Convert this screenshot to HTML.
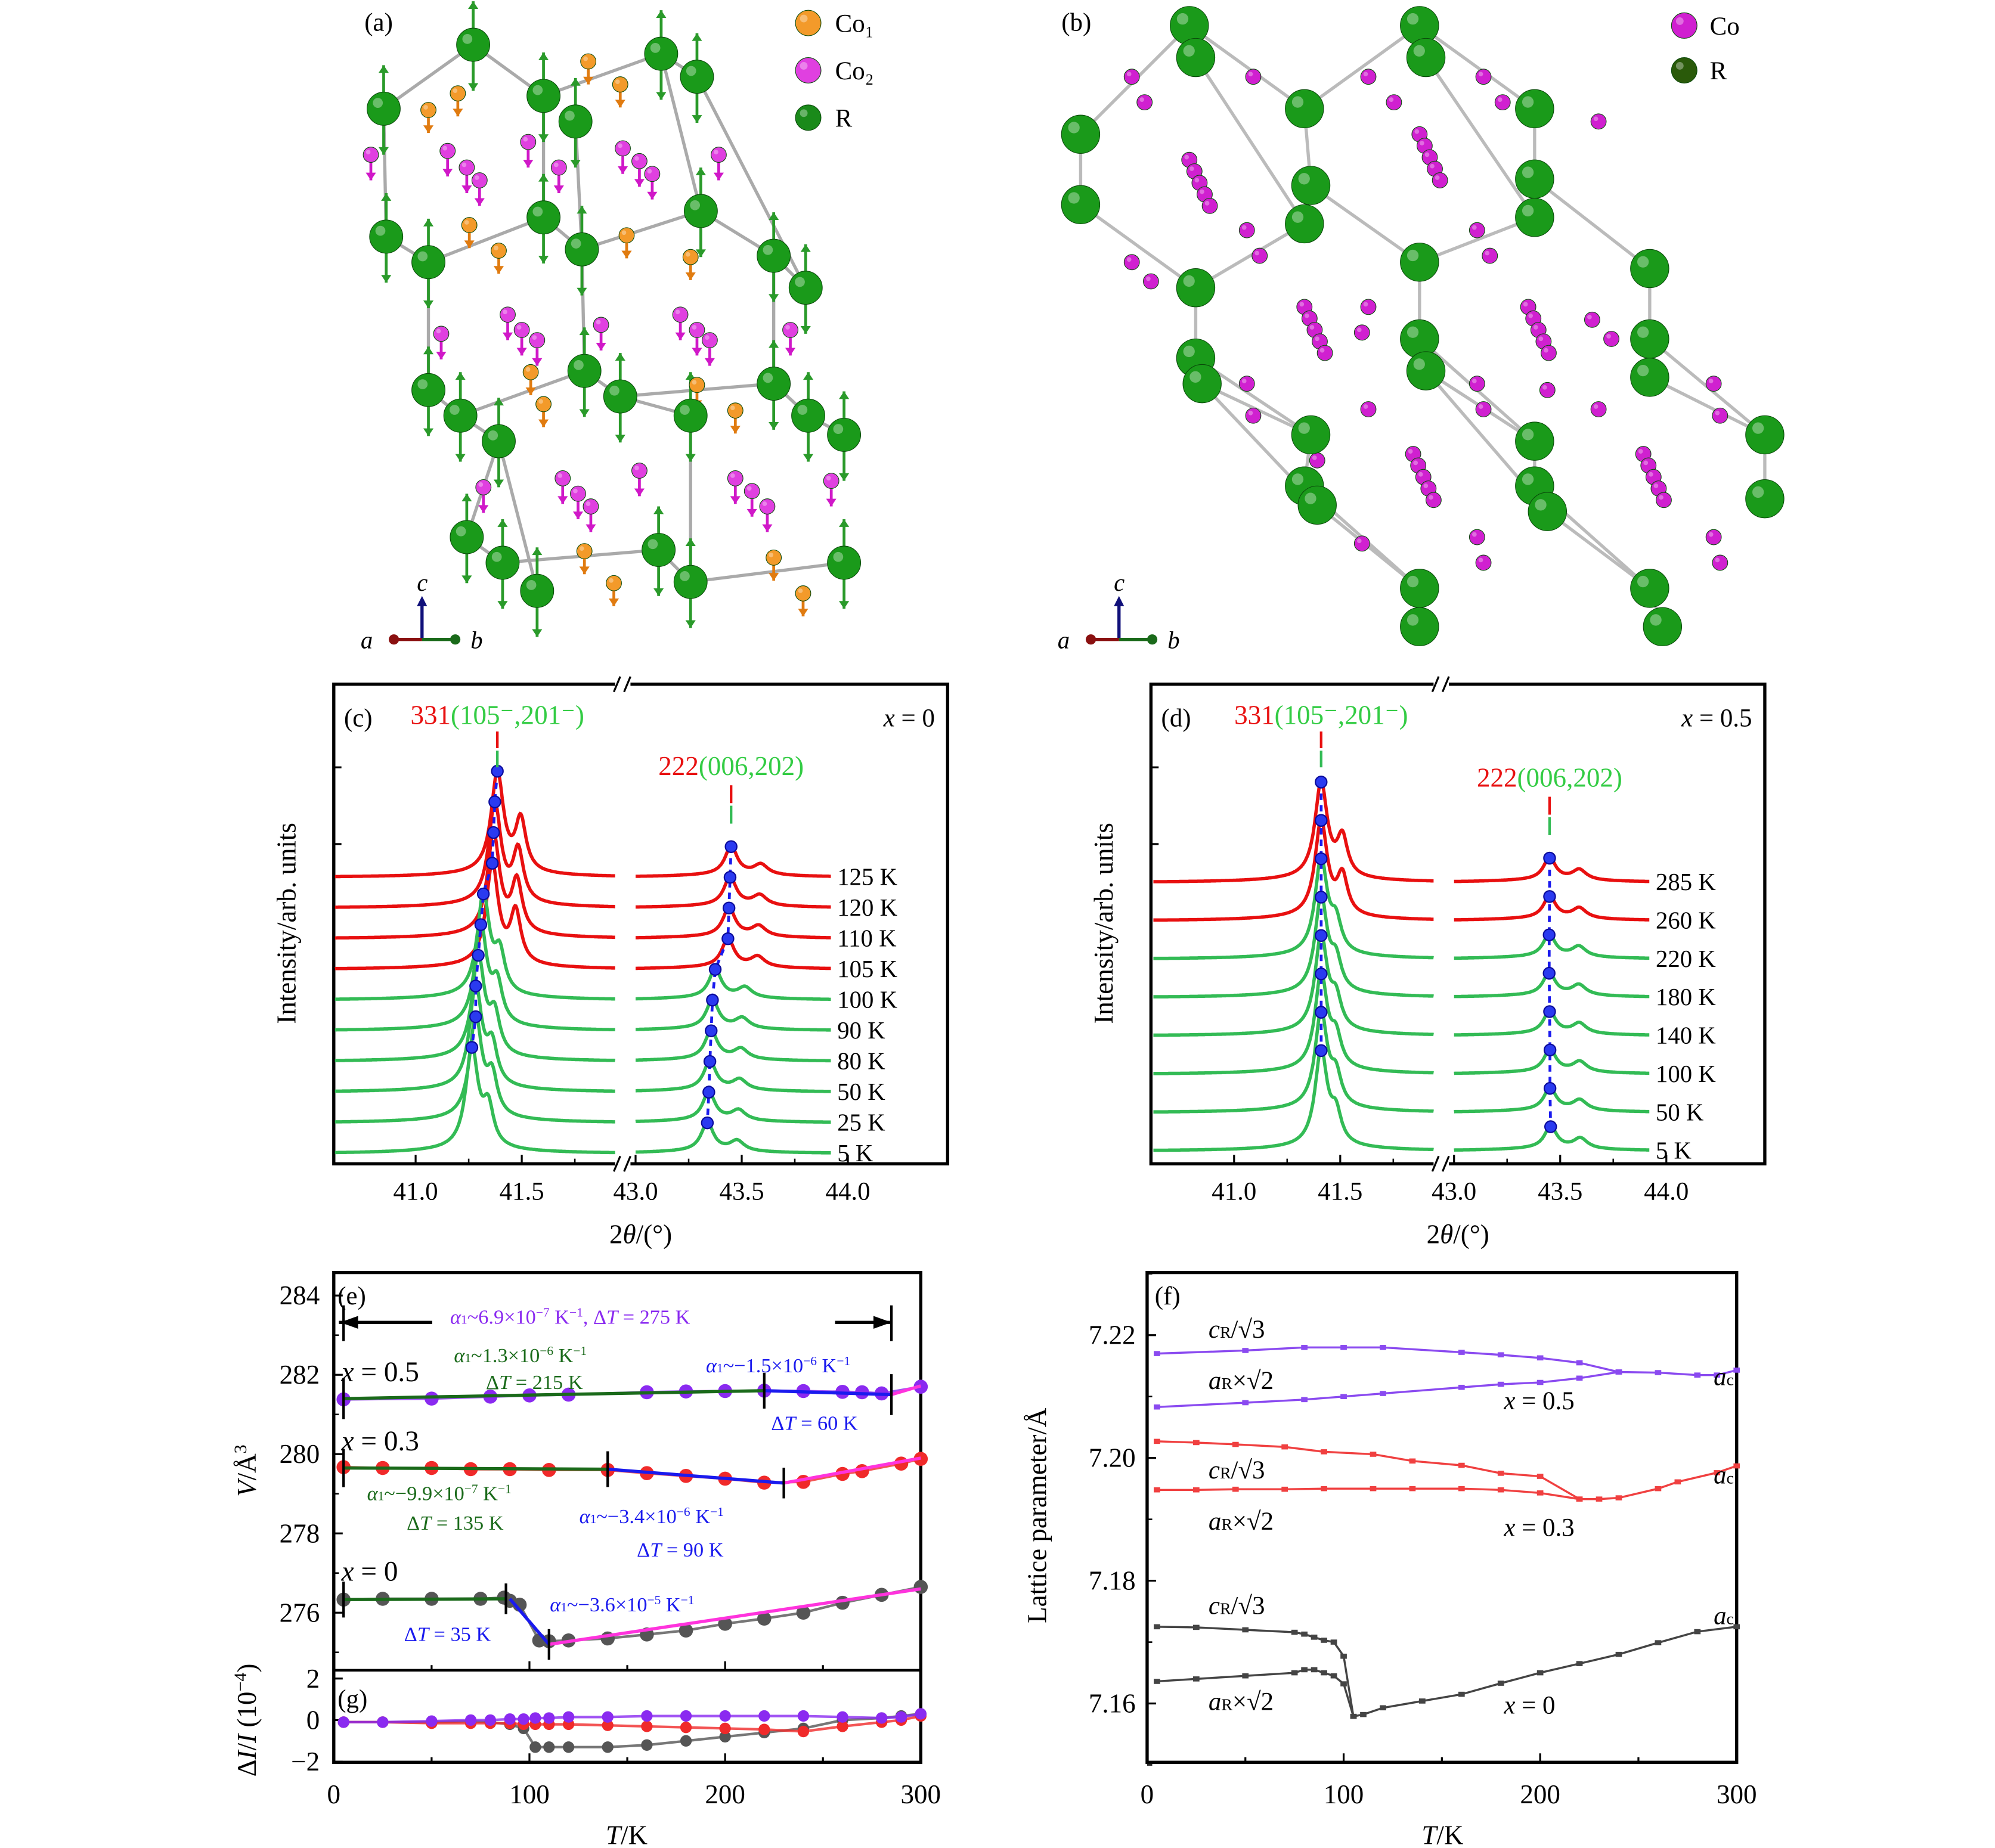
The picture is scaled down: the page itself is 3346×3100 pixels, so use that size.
<!DOCTYPE html>
<html><head><meta charset="utf-8"><style>
html,body{margin:0;padding:0;background:#fff}
svg{display:block}
text{font-family:"Liberation Serif",serif}
</style></head><body>
<svg id="fig" xmlns="http://www.w3.org/2000/svg" width="3346" height="3100" viewBox="0 0 1560 1445" preserveAspectRatio="none">
<rect width="1560" height="1445" fill="#fff"/>
<g id="pa"></g>
<g id="pb"></g>
<g id="pc"></g>
<g id="pd"></g>
<g id="pe"></g>
<g id="pf"></g>
</svg>
<script>
// ---------- data: (c) ----------
const cTemps=["125 K","120 K","110 K","105 K","100 K","90 K","80 K","50 K","25 K","5 K"];
const cPeak1=[41.385,41.373,41.367,41.361,41.319,41.307,41.295,41.283,41.283,41.265];
const cPeak2=[43.45,43.445,43.44,43.435,43.375,43.362,43.356,43.35,43.345,43.338];
const cPhase=["R","R","R","R","C","C","C","C","C","C"];
// ---------- data: (d) ----------
const dTemps=["285 K","260 K","220 K","180 K","140 K","100 K","50 K","5 K"];
const dPeak1=[41.41,41.41,41.41,41.41,41.41,41.41,41.41,41.41];
const dPeak2=[43.45,43.45,43.448,43.448,43.45,43.452,43.452,43.455];
const dPhase=["R","R","C","C","C","C","C","C"];
// ---------- data: (e) ----------
const eT05=[5,50,80,100,120,160,180,200,220,240,260,270,280,300];
const eV05=[281.38,281.40,281.45,281.48,281.50,281.56,281.58,281.59,281.60,281.59,281.57,281.56,281.53,281.70];
const eT03=[5,25,50,70,90,110,140,160,180,200,220,240,260,270,290,300];
const eV03=[279.67,279.65,279.65,279.62,279.62,279.60,279.60,279.52,279.45,279.38,279.28,279.30,279.50,279.57,279.76,279.88];
const eT0=[5,25,50,75,87,90,95,105,110,120,140,160,180,200,220,240,260,280,300];
const eV0=[276.33,276.35,276.35,276.35,276.38,276.30,276.20,275.30,275.28,275.30,275.35,275.45,275.55,275.72,275.85,276.00,276.25,276.45,276.65];
// ---------- data: (g) ----------
const gT=[5,25,50,70,80,90,97,103,110,120,140,160,180,200,220,240,260,280,290,300];
const gP=[-0.1,-0.1,-0.05,0,0,0.05,0.05,0.1,0.1,0.15,0.15,0.2,0.2,0.2,0.2,0.2,0.15,0.1,0.15,0.3];
const gR=[-0.1,-0.1,-0.15,-0.15,-0.15,-0.15,-0.2,-0.2,-0.2,-0.2,-0.25,-0.3,-0.35,-0.4,-0.45,-0.55,-0.3,-0.1,0,0.2];
const gK=[-0.1,-0.1,-0.1,-0.05,-0.1,-0.2,-0.4,-1.3,-1.3,-1.3,-1.3,-1.2,-1.0,-0.8,-0.6,-0.4,0,0.1,0.2,0.3];
// ---------- data: (f) ----------
const f5cT=[5,50,80,100,120,160,180,200,220,240,260,280,290,300];
const f5c=[7.2170,7.2175,7.2180,7.2180,7.2180,7.2172,7.2168,7.2163,7.2155,7.2140,7.2139,7.2135,7.2135,7.2143];
const f5aT=[5,50,80,100,120,160,180,200,220,240];
const f5a=[7.2083,7.2090,7.2095,7.2100,7.2105,7.2115,7.2120,7.2123,7.2130,7.2140];
const f3cT=[5,25,45,70,90,115,135,160,180,200,220];
const f3c=[7.2027,7.2025,7.2022,7.2018,7.2010,7.2006,7.1995,7.1988,7.1975,7.1970,7.1933];
const f3aT=[5,25,45,70,90,115,135,160,180,200,220,230,240,260,270,290,300];
const f3a=[7.1948,7.1948,7.1949,7.1949,7.1950,7.1950,7.1950,7.1950,7.1948,7.1943,7.1933,7.1933,7.1935,7.1950,7.1961,7.1976,7.1987];
const f0cT=[5,25,50,75,80,85,90,95,100,105];
const f0c=[7.1725,7.1724,7.1720,7.1716,7.1713,7.1708,7.1703,7.1700,7.1677,7.1579];
const f0aT=[5,25,50,75,80,85,90,95,100,105,110,120,140,160,180,200,220,240,260,280,300];
const f0a=[7.1636,7.1640,7.1645,7.1650,7.1655,7.1655,7.1650,7.1645,7.1632,7.1579,7.1582,7.1593,7.1604,7.1615,7.1633,7.1650,7.1665,7.1680,7.1699,7.1717,7.1725];

const NS="http://www.w3.org/2000/svg";
function mk(parent,tag,attrs,txt){const e=document.createElementNS(NS,tag);for(const k in attrs)e.setAttribute(k,attrs[k]);if(txt!==undefined)e.textContent=txt;parent.appendChild(e);return e;}

// ================= structures (a),(b) =================
function sphere(g,x,y,r,col){
  const c=mk(g,'circle',{cx:x,cy:y,r:r,fill:col,stroke:'#0a4a0a','stroke-width':0.5});
  
  
  mk(g,'circle',{cx:x-r*0.35,cy:y-r*0.35,r:r*0.3,fill:'#fff',opacity:0.35});
}
function arrow(g,x,y1,y2,col){
  mk(g,'line',{x1:x,y1:y1,x2:x,y2:y2,stroke:col,'stroke-width':2.2});
  const d=y2<y1?-1:1;
  mk(g,'path',{d:`M${x-4},${y2-d*6} L${x},${y2} L${x+4},${y2-d*6}Z`,fill:col});
}
(function(){
  const g=document.getElementById('pa');
  mk(g,'text',{x:285,y:24,'font-size':20},'(a)');
  const G=[[370,35],[517,42],[545,60],[300,85],[425,75],[450,95],[302,185],[335,205],[425,170],[455,195],[548,165],[605,200],[630,225],[335,305],[360,325],[457,290],[485,310],[605,300],[632,325],[540,325],[390,345],[365,420],[393,440],[515,430],[540,455],[660,440],[420,462],[660,340]];
  const L=[[0,4],[4,1],[1,2],[0,3],[3,6],[6,7],[7,8],[8,9],[9,10],[10,11],[11,12],[2,12],[5,9],[4,8],[7,13],[13,14],[14,15],[15,16],[16,17],[17,18],[11,17],[9,15],[14,20],[20,21],[21,22],[22,23],[23,24],[24,25],[18,27],[19,24],[20,26],[16,19],[1,10]];
  L.forEach(p=>mk(g,'line',{x1:G[p[0]][0],y1:G[p[0]][1],x2:G[p[1]][0],y2:G[p[1]][1],stroke:'#aaa','stroke-width':2.5}));
  G.forEach(p=>{arrow(g,p[0],p[1]-8,p[1]-34,'#2a9a2a');arrow(g,p[0],p[1]+8,p[1]+36,'#2a9a2a');});
  const O=[[335,90],[358,77],[460,52],[485,70],[367,180],[390,200],[490,188],[540,205],[415,295],[425,320],[545,305],[575,325],[457,435],[480,460],[605,440],[628,468]];
  O.forEach(p=>{arrow(g,p[0],p[1]-10,p[1]+14,'#e07b10');sphere(g,p[0],p[1]-4,6,'#f39a2a');});
  const M=[[290,125],[350,122],[365,135],[375,145],[413,115],[437,135],[487,120],[500,130],[510,140],[562,125],[345,265],[397,250],[408,262],[420,270],[470,258],[532,250],[545,262],[555,270],[618,262],[378,385],[440,378],[452,390],[462,400],[500,372],[575,378],[588,388],[600,400],[650,380]];
  M.forEach(p=>{arrow(g,p[0],p[1]-10,p[1]+16,'#d018c8');sphere(g,p[0],p[1]-4,6,'#e040e0');});
  G.forEach(p=>sphere(g,p[0],p[1],13,'#1a9a1a'));
  sphere(g,632,18,10,'#f39a2a');mk(g,'text',{x:653,y:25,'font-size':20},'Co₁');
  sphere(g,632,55,10,'#e040e0');mk(g,'text',{x:653,y:62,'font-size':20},'Co₂');
  sphere(g,632,92,10,'#1a8a1a');mk(g,'text',{x:653,y:99,'font-size':20},'R');
  axes(g,330,500);
})();
function axes(g,x,y){
  mk(g,'line',{x1:x,y1:y,x2:x,y2:y-28,stroke:'#10107a','stroke-width':2.5});
  mk(g,'path',{d:`M${x-4},${y-26} L${x},${y-34} L${x+4},${y-26}Z`,fill:'#10107a'});
  mk(g,'line',{x1:x,y1:y,x2:x+24,y2:y,stroke:'#1a6a1a','stroke-width':2.5});
  mk(g,'circle',{cx:x+26,cy:y,r:4,fill:'#1a6a1a'});
  mk(g,'line',{x1:x,y1:y,x2:x-20,y2:y,stroke:'#8a1010','stroke-width':2.5});
  mk(g,'circle',{cx:x-22,cy:y,r:4,fill:'#8a1010'});
  mk(g,'text',{x:x-48,y:y+7,'font-size':19,'font-style':'italic'},'a');
  mk(g,'text',{x:x+38,y:y+7,'font-size':19,'font-style':'italic'},'b');
  mk(g,'text',{x:x-4,y:y-38,'font-size':19,'font-style':'italic'},'c');
}
(function(){
  const g=document.getElementById('pb');
  mk(g,'text',{x:830,y:24,'font-size':20},'(b)');
  const G=[[930,20],[1110,20],[935,45],[1115,45],[845,105],[1020,85],[1200,85],[845,160],[1025,145],[1200,140],[1020,175],[1200,170],[935,225],[1110,205],[1290,210],[935,280],[1110,265],[1290,265],[940,300],[1115,290],[1290,295],[1025,340],[1200,345],[1380,340],[1020,380],[1200,380],[1380,390],[1030,395],[1210,400],[1110,460],[1290,460],[1110,490],[1300,490]];
  const L=[[0,5],[1,6],[0,4],[1,5],[4,7],[5,8],[6,9],[7,12],[8,13],[9,14],[10,12],[11,13],[12,15],[13,16],[14,17],[15,21],[16,22],[17,23],[18,21],[19,22],[20,23],[21,24],[22,25],[23,26],[24,29],[25,30],[27,29],[28,30],[29,31],[30,32],[2,10],[3,11],[18,27],[19,28],[15,18],[16,19],[17,20]];
  L.forEach(p=>mk(g,'line',{x1:G[p[0]][0],y1:G[p[0]][1],x2:G[p[1]][0],y2:G[p[1]][1],stroke:'#bbb','stroke-width':2.5}));
  const chains=[[930,125],[1110,105],[1020,240],[1195,240],[1105,355],[1285,355]];
  chains.forEach(c=>{for(let i=0;i<5;i++)sphere(g,c[0]+i*4,c[1]+i*9,6,'#d020d0');});
  const S=[[885,60],[895,80],[980,60],[1070,60],[1090,80],[1160,60],[1175,80],[1250,95],[975,180],[985,200],[1155,180],[1165,200],[885,205],[900,220],[1070,240],[1065,260],[1245,250],[1260,265],[980,325],[975,300],[1160,320],[1155,300],[1340,300],[1345,325],[1070,320],[1250,320],[1030,360],[1065,425],[1160,440],[1155,420],[1340,420],[1345,440],[1210,305]];
  S.forEach(p=>sphere(g,p[0],p[1],6,'#d020d0'));
  G.forEach(p=>sphere(g,p[0],p[1],15,'#1a9a1a'));
  sphere(g,1317,20,10,'#d020d0');mk(g,'text',{x:1337,y:27,'font-size':20},'Co');
  sphere(g,1317,55,10,'#2a5a0a');mk(g,'text',{x:1337,y:62,'font-size':20},'R');
  axes(g,875,500);
})();

// ================= XRD panels =================
function xrd(id,fx,tick41,br,temps,p1,p2,phase,base0,sp,h1,hs1,ds1,h2,hs2,ds2,x0lbl,lab){
  const g=document.getElementById(id);
  const L=x=>tick41+(x-41)*166, R=x=>tick41+172+(x-43)*166;
  const top=535,bot=910,left=fx,right=fx+480;
  mk(g,'rect',{x:left,y:top,width:480,height:bot-top,fill:'none',stroke:'#000','stroke-width':2.5});
  [top,bot].forEach(y=>{mk(g,'rect',{x:br-5,y:y-6,width:12,height:12,fill:'#fff'});
    mk(g,'line',{x1:br-6,y1:y+6,x2:br-1,y2:y-6,stroke:'#000','stroke-width':1.5});
    mk(g,'line',{x1:br+2,y1:y+6,x2:br+7,y2:y-6,stroke:'#000','stroke-width':1.5});});
  const ticks=[[41.0,L],[41.5,L],[43.0,R],[43.5,R],[44.0,R]];
  ticks.forEach(t=>{const x=t[1](t[0]);mk(g,'line',{x1:x,y1:bot,x2:x,y2:bot-7,stroke:'#000','stroke-width':1.5});
    const tx=mk(g,'text',{x:x,y:bot+28,'font-size':20,'text-anchor':'middle'},t[0].toFixed(1));
    });
  [41.25,41.75,43.25,43.75].forEach(v=>{const x=v<42?L(v):R(v);mk(g,'line',{x1:x,y1:bot,x2:x,y2:bot-4,stroke:'#000','stroke-width':1.2});});
  [600,660].forEach(y=>mk(g,'line',{x1:left,y1:y,x2:left+6,y2:y,stroke:'#000','stroke-width':1.5}));
  const xl=mk(g,'text',{x:(left+right)/2,y:bot+62,'font-size':21,'text-anchor':'middle'});
  xl.innerHTML='2<tspan font-style="italic">θ</tspan>/(°)';
  
  const yl=mk(g,'text',{x:0,y:0,'font-size':21,'text-anchor':'middle',transform:`translate(${left-30},722) rotate(-90)`},'Intensity/arb. units');
  
  mk(g,'text',{x:left+8,y:568,'font-size':20},lab);
  const hdr=mk(g,'text',{x:right-10,y:568,'font-size':20,'text-anchor':'end','font-style':'italic'});
  hdr.innerHTML='x<tspan font-style="normal"> = '+x0lbl+'</tspan>';
  const lor=(x,c,w)=>1/(1+((x-c)/w)**2);
  const dots1=[],dots2=[];
  temps.forEach((t,i)=>{
    const b=base0+i*sp, col=phase[i]==='R'?'#e81010':'#33bb55';
    const rf=phase[i]==='R'?1:0.75;
    let d='';
    for(let x=40.62;x<=41.94;x+=0.004){const v=h1*lor(x,p1[i],0.035)+hs1*rf*lor(x,p1[i]+ds1*(phase[i]==='R'?1:0.7),0.03)+3*lor(x,p1[i],0.3);
      d+=(d?'L':'M')+L(x).toFixed(1)+','+(b-v).toFixed(1);}
    let d2='';
    for(let x=43.0;x<=43.92;x+=0.004){const v=h2*lor(x,p2[i],0.035)+hs2*lor(x,p2[i]+ds2,0.04)+2*lor(x,p2[i],0.3);
      d2+=(d2?'L':'M')+R(x).toFixed(1)+','+(b-v).toFixed(1);}
    const pa=mk(g,'path',{d:d,fill:'none',stroke:col,'stroke-width':2.6});
    
    mk(g,'path',{d:d2,fill:'none',stroke:col,'stroke-width':2.6});
    const lt=mk(g,'text',{x:R(43.92)+5,y:b+6,'font-size':19},t);
    
    dots1.push([L(p1[i]),b-h1-hs1*0.05-3]);dots2.push([R(p2[i]),b-h2-2]);
  });
  [dots1,dots2].forEach(ds=>{
    mk(g,'path',{d:'M'+ds.map(p=>p[0].toFixed(1)+','+p[1].toFixed(1)).join('L'),fill:'none',stroke:'#1a1aee','stroke-width':2.2,'stroke-dasharray':'5,4'});
    ds.forEach(p=>{const c=mk(g,'circle',{cx:p[0],cy:p[1],r:4.5,fill:'#2a3af0',stroke:'#0a0a9a','stroke-width':1});
      });
  });
  const x1=dots1[0][0],x2=dots2[0][0];
  mk(g,'line',{x1:x1,y1:572,x2:x1,y2:585,stroke:'#e81010','stroke-width':2});
  mk(g,'line',{x1:x1,y1:587,x2:x1,y2:600,stroke:'#33bb55','stroke-width':2});
  const t1=mk(g,'text',{x:x1,y:566,'font-size':21,'text-anchor':'middle'});
  t1.innerHTML='<tspan fill="#e81010">331</tspan><tspan fill="#33cc44">(105⁻,201⁻)</tspan>';
  const y2=dots2[0][1];
  mk(g,'line',{x1:x2,y1:y2-48,x2:x2,y2:y2-34,stroke:'#e81010','stroke-width':2});
  mk(g,'line',{x1:x2,y1:y2-32,x2:x2,y2:y2-18,stroke:'#33bb55','stroke-width':2});
  const t2=mk(g,'text',{x:x2,y:y2-56,'font-size':21,'text-anchor':'middle'});
  t2.innerHTML='<tspan fill="#e81010">222</tspan><tspan fill="#33cc44">(006,202)</tspan>';
}
xrd('pc',261,325,486,cTemps,cPeak1,cPeak2,cPhase,686,24,78,40,0.11,22,8,0.14,'0','(c)');
xrd('pd',900,965,1126,dTemps,dPeak1,dPeak2,dPhase,690,30,74,30,0.1,17,8,0.14,'0.5','(d)');

// ================= (e) and (g) =================
(function(){
  const g=document.getElementById('pe');
  const X=T=>261+T*459/300, Y=V=>1013+(284-V)*31, YG=v=>1345-v*16.25;
  mk(g,'rect',{x:261,y:995,width:459,height:383,fill:'none',stroke:'#000','stroke-width':2.5});
  mk(g,'line',{x1:261,y1:1306,x2:720,y2:1306,stroke:'#000','stroke-width':2});
  [284,282,280,278,276].forEach(v=>{mk(g,'line',{x1:261,y1:Y(v),x2:268,y2:Y(v),stroke:'#000','stroke-width':1.5});
    const t=mk(g,'text',{x:250,y:Y(v)+7,'font-size':21,'text-anchor':'end'},v);});
  [283,281,279,277,275].forEach(v=>mk(g,'line',{x1:261,y1:Y(v),x2:265,y2:Y(v),stroke:'#000','stroke-width':1.2}));
  [[2,'2'],[0,'0'],[-2,'−2']].forEach(v=>{mk(g,'line',{x1:261,y1:YG(v[0]),x2:268,y2:YG(v[0]),stroke:'#000','stroke-width':1.5});
    mk(g,'text',{x:250,y:YG(v[0])+7,'font-size':21,'text-anchor':'end'},v[1]);});
  [0,50,100,150,200,250,300].forEach(T=>{[1306,1378].forEach(y=>mk(g,'line',{x1:X(T),y1:y,x2:X(T),y2:y-(T%100?4:7),stroke:'#000','stroke-width':1.5}));
    if(T%100===0){const t=mk(g,'text',{x:X(T),y:1410,'font-size':21,'text-anchor':'middle'},T);}});
  const xt=mk(g,'text',{x:490,y:1442,'font-size':21,'text-anchor':'middle'});xt.innerHTML='<tspan font-style="italic">T</tspan>/K';
  
  const yt=mk(g,'text',{x:0,y:0,'font-size':21,'text-anchor':'middle',transform:'translate(200,1150) rotate(-90)'});yt.innerHTML='<tspan font-style="italic">V</tspan>/Å<tspan baseline-shift="super" font-size="14">3</tspan>';
  
  
  const gt=mk(g,'text',{x:0,y:0,'font-size':21,'text-anchor':'middle',transform:'translate(200,1345) rotate(-90)'});gt.innerHTML='Δ<tspan font-style="italic">I</tspan>/<tspan font-style="italic">I</tspan> (10<tspan baseline-shift="super" font-size="14">−4</tspan>)';
  
  
  mk(g,'text',{x:264,y:1020,'font-size':20},'(e)');
  mk(g,'text',{x:264,y:1335,'font-size':20},'(g)');
  function series(Ts,Vs,yf,col,name,r){
    const p=mk(g,'path',{d:'M'+Ts.map((t,i)=>X(t).toFixed(1)+','+yf(Vs[i]).toFixed(1)).join('L'),fill:'none',stroke:col,'stroke-width':2,opacity:0.8});
    
    Ts.forEach((t,i)=>{const c=mk(g,'circle',{cx:X(t),cy:yf(Vs[i]),r:r,fill:col});});
  }
  function fit(t1,v1,t2,v2,col){mk(g,'line',{x1:X(t1),y1:Y(v1),x2:X(t2),y2:Y(v2),stroke:col,'stroke-width':2.5});}
  function bar(t,v,h){mk(g,'line',{x1:X(t),y1:Y(v)-h,x2:X(t),y2:Y(v)+h,stroke:'#000','stroke-width':2});}
  series(eT05,eV05,Y,'#8a2af0','v-x05',5.5);
  series(eT03,eV03,Y,'#f02a2a','v-x03',5.5);
  series(eT0,eV0,Y,'#555','v-x0',5.5);
  fit(5,281.40,220,281.60,'#1a6a1a');fit(220,281.60,285,281.50,'#1a1aee');fit(285,281.50,300,281.72,'#ff33dd');
  fit(5,279.65,140,279.62,'#1a6a1a');fit(140,279.62,230,279.27,'#1a1aee');fit(230,279.27,300,279.90,'#ff33dd');
  fit(5,276.33,88,276.35,'#1a6a1a');fit(90,276.35,110,275.20,'#1a1aee');fit(110,275.20,300,276.60,'#ff33dd');
  bar(5,281.4,16);bar(220,281.6,14);bar(285,281.5,16);bar(5,279.65,15);bar(140,279.62,14);bar(230,279.27,12);bar(5,276.33,14);bar(88,276.35,12);bar(110,275.2,12);
  bar(5,283.3,14);bar(285,283.3,14);mk(g,'line',{x1:265,y1:1034,x2:338,y2:1034,stroke:'#000','stroke-width':2.5});
  mk(g,'path',{d:'M266,1034 L280,1029 L280,1039Z',fill:'#000'});
  mk(g,'line',{x1:653,y1:1034,x2:696,y2:1034,stroke:'#000','stroke-width':2.5});mk(g,'path',{d:'M697,1034 L683,1029 L683,1039Z',fill:'#000'});
  const T=(x,y,c,h,s)=>{const e=mk(g,'text',{x:x,y:y,'font-size':s||16,fill:c});e.innerHTML=h;};
  T(352,1035,'#8a2af0','<tspan font-style="italic">α</tspan><tspan font-size="10">1</tspan>~6.9×10<tspan baseline-shift="super" font-size="10">−7</tspan> K<tspan baseline-shift="super" font-size="10">−1</tspan>, Δ<tspan font-style="italic">T</tspan> = 275 K');
  T(355,1065,'#1a6a1a','<tspan font-style="italic">α</tspan><tspan font-size="10">1</tspan>~1.3×10<tspan baseline-shift="super" font-size="10">−6</tspan> K<tspan baseline-shift="super" font-size="10">−1</tspan>');
  T(380,1086,'#1a6a1a','Δ<tspan font-style="italic">T</tspan> = 215 K');
  T(552,1073,'#1a1aee','<tspan font-style="italic">α</tspan><tspan font-size="10">1</tspan>~−1.5×10<tspan baseline-shift="super" font-size="10">−6</tspan> K<tspan baseline-shift="super" font-size="10">−1</tspan>');
  T(603,1118,'#1a1aee','Δ<tspan font-style="italic">T</tspan> = 60 K');
  T(287,1173,'#1a6a1a','<tspan font-style="italic">α</tspan><tspan font-size="10">1</tspan>~−9.9×10<tspan baseline-shift="super" font-size="10">−7</tspan> K<tspan baseline-shift="super" font-size="10">−1</tspan>');
  T(318,1196,'#1a6a1a','Δ<tspan font-style="italic">T</tspan> = 135 K');
  T(453,1191,'#1a1aee','<tspan font-style="italic">α</tspan><tspan font-size="10">1</tspan>~−3.4×10<tspan baseline-shift="super" font-size="10">−6</tspan> K<tspan baseline-shift="super" font-size="10">−1</tspan>');
  T(498,1217,'#1a1aee','Δ<tspan font-style="italic">T</tspan> = 90 K');
  T(430,1260,'#1a1aee','<tspan font-style="italic">α</tspan><tspan font-size="10">1</tspan>~−3.6×10<tspan baseline-shift="super" font-size="10">−5</tspan> K<tspan baseline-shift="super" font-size="10">−1</tspan>');
  T(316,1283,'#1a1aee','Δ<tspan font-style="italic">T</tspan> = 35 K');
  T(267,1080,'#000','<tspan font-style="italic">x</tspan> = 0.5',22);
  T(267,1134,'#000','<tspan font-style="italic">x</tspan> = 0.3',22);
  T(267,1236,'#000','<tspan font-style="italic">x</tspan> = 0',22);
  series(gT,gK,YG,'#555','g-x0',4.5);
  series(gT,gR,YG,'#f02a2a','g-x03',4.5);
  series(gT,gP,YG,'#8a2af0','g-x05',4.5);
})();

// ================= (f) =================
(function(){
  const g=document.getElementById('pf');
  const X=T=>897+T*461/300, Y=v=>1044+(7.22-v)*4800;
  mk(g,'rect',{x:897,y:995,width:461,height:383,fill:'none',stroke:'#000','stroke-width':2.5});
  [7.22,7.20,7.18,7.16].forEach(v=>{mk(g,'line',{x1:897,y1:Y(v),x2:904,y2:Y(v),stroke:'#000','stroke-width':1.5});
    const t=mk(g,'text',{x:888,y:Y(v)+7,'font-size':21,'text-anchor':'end'},v.toFixed(2));});
  [7.23,7.21,7.19,7.17,7.15].forEach(v=>mk(g,'line',{x1:897,y1:Y(v),x2:901,y2:Y(v),stroke:'#000','stroke-width':1.2}));
  [0,50,100,150,200,250,300].forEach(T=>{mk(g,'line',{x1:X(T),y1:1378,x2:X(T),y2:1378-(T%100?4:7),stroke:'#000','stroke-width':1.5});
    if(T%100===0){const t=mk(g,'text',{x:X(T),y:1410,'font-size':21,'text-anchor':'middle'},T);}});
  const xt=mk(g,'text',{x:1128,y:1442,'font-size':21,'text-anchor':'middle'});xt.innerHTML='<tspan font-style="italic">T</tspan>/K';
  
  const yt=mk(g,'text',{x:0,y:0,'font-size':21,'text-anchor':'middle',transform:'translate(818,1185) rotate(-90)'},'Lattice parameter/Å');
  
  mk(g,'text',{x:903,y:1020,'font-size':20},'(f)');
  function series(Ts,Vs,col,name){
    const p=mk(g,'path',{d:'M'+Ts.map((t,i)=>X(t).toFixed(1)+','+Y(Vs[i]).toFixed(1)).join('L'),fill:'none',stroke:col,'stroke-width':1.6});
    
    Ts.forEach((t,i)=>{const c=mk(g,'rect',{x:X(t)-2.5,y:Y(Vs[i])-2,width:5,height:4,fill:col});});
  }
  series(f5cT,f5c,'#8a4af0','c-x05');series(f5aT,f5a,'#8a4af0','a-x05');
  series(f3cT,f3c,'#f04040','c-x03');series(f3aT,f3a,'#f04040','a-x03');
  series(f0cT,f0c,'#444','c-x0');series(f0aT,f0a,'#444','a-x0');
  const T=(x,y,h)=>{const e=mk(g,'text',{x:x,y:y,'font-size':20});e.innerHTML=h;};
  const cR='<tspan font-style="italic">c</tspan><tspan font-size="13">R</tspan>/√3', aR='<tspan font-style="italic">a</tspan><tspan font-size="13">R</tspan>×√2', ac='<tspan font-style="italic">a</tspan><tspan font-size="13">c</tspan>';
  T(945,1046,cR);T(945,1086,aR);T(1340,1083,ac);T(1176,1102,'<tspan font-style="italic">x</tspan> = 0.5');
  T(945,1156,cR);T(945,1196,aR);T(1340,1160,ac);T(1176,1201,'<tspan font-style="italic">x</tspan> = 0.3');
  T(945,1262,cR);T(945,1337,aR);T(1340,1270,ac);T(1176,1340,'<tspan font-style="italic">x</tspan> = 0');
})();
</script>
</body></html>
